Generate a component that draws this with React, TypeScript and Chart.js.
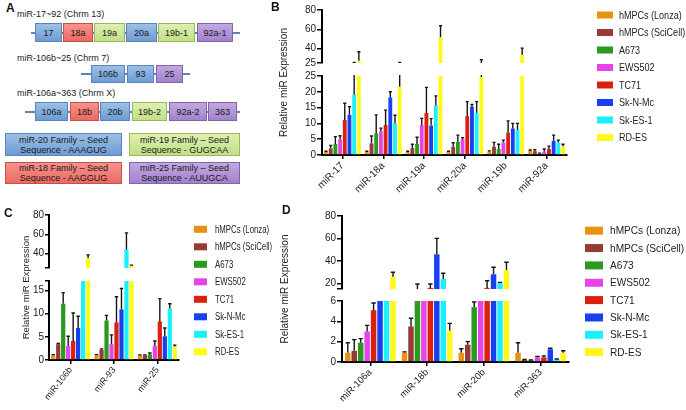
import React, { useEffect, useRef } from 'react';
import { Chart, registerables } from 'chart.js';

Chart.register(...registerables);

// ---------- shared series ----------
const SERIES = ['hMPCs (Lonza)', 'hMPCs (SciCell)', 'A673', 'EWS502', 'TC71', 'Sk-N-Mc', 'Sk-ES-1', 'RD-ES'];
const COLORS = ['#E8920F', '#963C37', '#2A9A1E', '#E545E8', '#DC2010', '#1840F0', '#19F0FA', '#FFF81A'];
const Y_TITLE = 'Relative miR Expression';

// ---------- panel B ----------
const B_CATEGORIES = ['miR-17', 'miR-18a', 'miR-19a', 'miR-20a', 'miR-19b', 'miR-92a'];
const B_LONZA = [1, 1, 1, 1, 1, 1.3];
const B_LONZA_ERR = [0.2, 0.2, 0.2, 0.2, 0.3, 0.3];
const B_SCICELL = [2.1, 3.7, 2.2, 2.6, 2.6, 1.2];
const B_SCICELL_ERR = [0.9, 2.3, 1.2, 1.3, 1.4, 0.5];
const B_A673 = [3.5, 6.9, 3.5, 4.2, 1.9, 0.4];
const B_A673_ERR = [2.3, 5.8, 2.1, 2.1, 1.5, 0.2];
const B_EWS502 = [4.9, 7.5, 9.5, 5.0, 4.0, 1.0];
const B_EWS502_ERR = [1.2, 1.0, 2.1, 0.5, 0.7, 0.9];
const B_TC71 = [11.1, 9.5, 13.3, 12.3, 7.1, 1.9];
const B_TC71_ERR = [5.3, 4.7, 8.1, 4.6, 3.7, 0.9];
const B_SKNMC = [12.7, 18.2, 9.3, 15.3, 8.4, 4.5];
const B_SKNMC_ERR = [2.6, 1.8, 2.2, 0.7, 1.6, 1.8];
const B_SKES1 = [19.1, 10.0, 15.7, 13.4, 7.9, 4.0];
const B_SKES1_ERR = [6.6, 2.6, 3.0, 3.5, 2.1, 0.7];
const B_RDES = [27.4, 21.6, 51.6, 24.7, 33.5, 2.8];
const B_RDES_ERR = [9.3, 4.1, 12.0, 3.6, 6.9, 0.6];
const B_TOP_TICKS = [25, 40, 60, 80];
const B_BOTTOM_TICKS = [0, 5, 10, 15, 20, 25];

// ---------- panel C ----------
const C_CATEGORIES = ['miR-106b', 'miR-93', 'miR-25'];
const C_LONZA = [1.0, 1.0, 1.0];
const C_LONZA_ERR = [0.15, 0.15, 0.1];
const C_SCICELL = [3.4, 2.2, 1.0];
const C_SCICELL_ERR = [0.15, 0.2, 0.1];
const C_A673 = [12.1, 8.5, 1.2];
const C_A673_ERR = [2.4, 1.1, 0.3];
const C_EWS502 = [3.0, 3.4, 3.0];
const C_EWS502_ERR = [2.1, 2.0, 1.1];
const C_TC71 = [4.1, 8.1, 8.3];
const C_TC71_ERR = [6.0, 5.5, 4.9];
const C_SKNMC = [6.9, 10.9, 5.1];
const C_SKNMC_ERR = [2.5, 4.5, 1.8];
const C_SKES1 = [21.0, 44.3, 11.1];
const C_SKES1_ERR = [1.5, 17.2, 1.0];
const C_RDES = [35.5, 27.3, 2.9];
const C_RDES_ERR = [3.1, 0.7, 0.3];
const C_TOP_TICKS = [25, 40, 60, 80];
const C_BOTTOM_TICKS = [0, 5, 10, 15, 17];

// ---------- panel D ----------
const D_CATEGORIES = ['miR-106a', 'miR-18b', 'miR-20b', 'miR-363'];
const D_LONZA = [0.9, 0.9, 0.9, 0.9];
const D_LONZA_ERR = [1.0, 0.1, 0.4, 1.0];
const D_SCICELL = [1.1, 3.5, 1.7, 0.2];
const D_SCICELL_ERR = [1.1, 0.8, 0.3, 0.05];
const D_A673 = [1.9, 14.0, 5.4, 0.15];
const D_A673_ERR = [0.4, 5.5, 0.5, 0.05];
const D_EWS502 = [3.0, 10.0, 10.0, 0.45];
const D_EWS502_ERR = [0.6, 0, 0, 0.1];
const D_TC71 = [5.1, 16.0, 16.0, 0.45];
const D_TC71_ERR = [0.7, 3.5, 6.4, 0.15];
const D_SKNMC = [10.0, 45.9, 28.1, 1.25];
const D_SKNMC_ERR = [0, 14.2, 6.2, 0.1];
const D_SKES1 = [10.0, 23.9, 20.1, 0.25];
const D_SKES1_ERR = [0, 5.1, 0.8, 0.05];
const D_RDES = [26.0, 3.1, 31.9, 0.9];
const D_RDES_ERR = [3.9, 0.7, 6.9, 0.2];
const D_TOP_TICKS = [15, 20, 40, 60, 80];
const D_BOTTOM_TICKS = [0, 2, 4, 6];

type PanelSpec = {
  categories: string[];
  values: number[][];
  errors: number[][];
  topMin: number; topMax: number; topTicks: number[];
  botMin: number; botMax: number; botTicks: number[];
  unlabeled: number[];
  weights: [number, number, number];
  pad: { left: number; right: number; top: number; bottom: number };
  axisWidth: number; xHeight: number; tickLen: number;
  catPct: number; barPct: number;
  tickFont: number; xFont: number; rotation: number;
  titleX: number; titleFont: number;
  legend: { sx: number; sw: number; sh: number; tx: number; y0: number; dy: number; font: string; squeeze: number };
};

const segClip = {
  id: 'segClip',
  beforeDatasetDraw(chart: any, args: any) {
    const ys = chart.scales[args.meta.yAxisID];
    const ctx = chart.ctx;
    const ca = chart.chartArea;
    ctx.save();
    ctx.beginPath();
    ctx.rect(ca.left, ys.top - 1, ca.right - ca.left + 10, ys.bottom - ys.top + 1);
    ctx.clip();
  },
  afterDatasetDraw(chart: any, args: any) {
    const ds = chart.data.datasets[args.index];
    const meta = args.meta;
    const ys = chart.scales[meta.yAxisID];
    const ctx = chart.ctx;
    ctx.strokeStyle = '#151515';
    ctx.lineWidth = 1.4;
    meta.data.forEach((el: any, i: number) => {
      const v = ds.data[i];
      const e = ds.errors[i];
      if (v == null || !e) return;
      const x = el.x;
      const y0 = ys.getPixelForValue(v);
      const y1 = ys.getPixelForValue(v + e);
      const half = Math.max(1.5, el.width * 0.4);
      ctx.beginPath();
      ctx.moveTo(x, y0);
      ctx.lineTo(x, y1);
      ctx.moveTo(x - half, y1);
      ctx.lineTo(x + half, y1);
      ctx.stroke();
    });
    ctx.restore();
  },
};

const yTitle = {
  id: 'yTitle',
  afterDraw(chart: any, _a: any, o: any) {
    const ctx = chart.ctx;
    const top = chart.scales.yTop.top;
    const bot = chart.scales.yBot.bottom;
    ctx.save();
    ctx.translate(o.x, (top + bot) / 2);
    ctx.rotate(-Math.PI / 2);
    ctx.font = `${o.size}px "Liberation Sans", Arial, sans-serif`;
    ctx.fillStyle = '#222';
    ctx.textAlign = 'center';
    ctx.textBaseline = 'middle';
    ctx.fillText(Y_TITLE, 0, 0);
    ctx.restore();
  },
};

const seriesLegend = {
  id: 'seriesLegend',
  afterDraw(chart: any, _a: any, o: any) {
    const ctx = chart.ctx;
    ctx.save();
    ctx.font = o.font;
    ctx.textBaseline = 'middle';
    ctx.textAlign = 'left';
    SERIES.forEach((name, i) => {
      const y = o.y0 + o.dy * i;
      ctx.fillStyle = COLORS[i];
      ctx.fillRect(o.sx, y - o.sh / 2, o.sw, o.sh);
      ctx.fillStyle = '#222';
      ctx.save();
      ctx.translate(o.tx, y + 0.5);
      ctx.scale(o.squeeze, 1);
      ctx.fillText(name, 0, 0);
      ctx.restore();
    });
    ctx.restore();
  },
};

function buildConfig(spec: PanelSpec): any {
  const datasets: any[] = [];
  spec.values.forEach((vals, s) => {
    ['yBot', 'yTop'].forEach((axis) => {
      datasets.push({
        label: SERIES[s],
        data: vals,
        errors: spec.errors[s],
        backgroundColor: COLORS[s],
        borderWidth: 0,
        yAxisID: axis,
        stack: 'g' + s,
        categoryPercentage: spec.catPct,
        barPercentage: spec.barPct,
      });
    });
  });
  const tickFont = { family: '"Liberation Sans", Arial, sans-serif', size: spec.tickFont };
  const yGrid = { display: true, drawOnChartArea: false, drawTicks: true, tickLength: spec.tickLen, color: '#000', lineWidth: 1.5 };
  const yBorder = { display: true, color: '#000', width: 2 };
  const fitW = (s: any) => { s.width = spec.axisWidth; };
  const label = (v: any) => (spec.unlabeled.includes(Number(v)) ? '' : String(v));
  return {
    type: 'bar',
    data: { labels: spec.categories, datasets },
    plugins: [segClip, yTitle, seriesLegend],
    options: {
      responsive: false,
      animation: false,
      events: [],
      devicePixelRatio: 1,
      layout: { padding: spec.pad },
      plugins: {
        legend: { display: false },
        tooltip: { enabled: false },
        yTitle: { x: spec.titleX, size: spec.titleFont },
        seriesLegend: spec.legend,
      },
      scales: {
        x: {
          type: 'category',
          grid: { display: true, drawOnChartArea: false, drawTicks: true, tickLength: 4, offset: false, color: '#000', lineWidth: 1.5 },
          border: { display: true, color: '#000', width: 2 },
          ticks: {
            autoSkip: false, minRotation: spec.rotation, maxRotation: spec.rotation, padding: 1,
            color: '#222', font: { family: '"Liberation Sans", Arial, sans-serif', size: spec.xFont },
          },
          afterFit: (s: any) => { s.height = spec.xHeight; },
        },
        yBot: {
          type: 'linear', position: 'left', stack: 'brk', stackWeight: spec.weights[2], weight: 1,
          min: spec.botMin, max: spec.botMax,
          afterBuildTicks: (s: any) => { s.ticks = spec.botTicks.map((v) => ({ value: v })); },
          ticks: { autoSkip: false, padding: 1, color: '#222', font: tickFont, callback: label },
          grid: yGrid, border: yBorder, afterFit: fitW,
        },
        yGap: {
          type: 'linear', position: 'left', stack: 'brk', stackWeight: spec.weights[1], weight: 2,
          min: 0, max: 1,
          ticks: { display: false }, grid: { display: false }, border: { display: false }, afterFit: fitW,
        },
        yTop: {
          type: 'linear', position: 'left', stack: 'brk', stackWeight: spec.weights[0], weight: 3,
          min: spec.topMin, max: spec.topMax,
          afterBuildTicks: (s: any) => { s.ticks = spec.topTicks.map((v) => ({ value: v })); },
          ticks: { autoSkip: false, padding: 1, color: '#222', font: tickFont, callback: label },
          grid: yGrid, border: yBorder, afterFit: fitW,
        },
      },
    },
  };
}

const SANS = '"Liberation Sans", Arial, sans-serif';

const SPEC_B: PanelSpec = {
  categories: B_CATEGORIES,
  values: [B_LONZA, B_SCICELL, B_A673, B_EWS502, B_TC71, B_SKNMC, B_SKES1, B_RDES],
  errors: [B_LONZA_ERR, B_SCICELL_ERR, B_A673_ERR, B_EWS502_ERR, B_TC71_ERR, B_SKNMC_ERR, B_SKES1_ERR, B_RDES_ERR],
  topMin: 25, topMax: 80, topTicks: B_TOP_TICKS,
  botMin: 0, botMax: 25, botTicks: B_BOTTOM_TICKS,
  unlabeled: [],
  weights: [53, 13, 79],
  pad: { left: 42, right: 119, top: 10, bottom: 0 },
  axisWidth: 40, xHeight: 45, tickLen: 5,
  catPct: 0.92, barPct: 0.82,
  tickFont: 10, xFont: 10, rotation: 45,
  titleX: 44, titleFont: 10,
  legend: { sx: 357, sw: 16, sh: 7, tx: 379, y0: 15, dy: 17.5, font: `11px ${SANS}`, squeeze: 0.82 },
};

const SPEC_C: PanelSpec = {
  categories: C_CATEGORIES,
  values: [C_LONZA, C_SCICELL, C_A673, C_EWS502, C_TC71, C_SKNMC, C_SKES1, C_RDES],
  errors: [C_LONZA_ERR, C_SCICELL_ERR, C_A673_ERR, C_EWS502_ERR, C_TC71_ERR, C_SKNMC_ERR, C_SKES1_ERR, C_RDES_ERR],
  topMin: 25, topMax: 80, topTicks: C_TOP_TICKS,
  botMin: 0, botMax: 17, botTicks: C_BOTTOM_TICKS,
  unlabeled: [17, 25],
  weights: [53, 13, 79],
  pad: { left: 29, right: 99, top: 15, bottom: 0 },
  axisWidth: 20, xHeight: 50, tickLen: 4,
  catPct: 0.92, barPct: 0.85,
  tickFont: 10, xFont: 9, rotation: 52,
  titleX: 26, titleFont: 9.5,
  legend: { sx: 194, sw: 13, sh: 7, tx: 215, y0: 29.3, dy: 17.5, font: `10px ${SANS}`, squeeze: 0.78 },
};

const SPEC_D: PanelSpec = {
  categories: D_CATEGORIES,
  values: [D_LONZA, D_SCICELL, D_A673, D_EWS502, D_TC71, D_SKNMC, D_SKES1, D_RDES],
  errors: [D_LONZA_ERR, D_SCICELL_ERR, D_A673_ERR, D_EWS502_ERR, D_TC71_ERR, D_SKNMC_ERR, D_SKES1_ERR, D_RDES_ERR],
  topMin: 15, topMax: 80, topTicks: D_TOP_TICKS,
  botMin: 0, botMax: 6, botTicks: D_BOTTOM_TICKS,
  unlabeled: [15],
  weights: [73, 12, 61],
  pad: { left: 34, right: 117, top: 16, bottom: 0 },
  axisWidth: 30, xHeight: 48, tickLen: 5,
  catPct: 0.91, barPct: 0.85,
  tickFont: 10, xFont: 9.5, rotation: 45,
  titleX: 7, titleFont: 10,
  legend: { sx: 307, sw: 18, sh: 8, tx: 332, y0: 30.7, dy: 17.35, font: `11px ${SANS}`, squeeze: 0.92 },
};

function BrokenBarChart({ spec, left, top, width, height }: { spec: PanelSpec; left: number; top: number; width: number; height: number }) {
  const ref = useRef<HTMLCanvasElement>(null);
  useEffect(() => {
    const chart = new Chart(ref.current as HTMLCanvasElement, buildConfig(spec));
    return () => chart.destroy();
  }, [spec]);
  return (
    <canvas
      ref={ref}
      width={width}
      height={height}
      style={{ position: 'absolute', left, top, width, height, display: 'block' }}
    />
  );
}

// ---------- panel A (diagram) ----------
const BOX_STYLE: Record<string, [string, string, string]> = {
  blue: ['#9CC0E8', '#6E9BD3', '#5B84BA'],
  red: ['#F5938C', '#EB6A62', '#C65049'],
  green: ['#DDF0B0', '#C2DE86', '#9DB95F'],
  purple: ['#C2A8E2', '#A282CB', '#8264A8'],
};

type Gene = [string, number, number, string];
const ROW1: Gene[] = [['17', 35, 27, 'blue'], ['18a', 63, 30, 'red'], ['19a', 94, 31, 'green'], ['20a', 126, 31, 'blue'], ['19b-1', 158, 37, 'green'], ['92a-1', 197, 36, 'purple']];
const ROW2: Gene[] = [['106b', 91, 34, 'blue'], ['93', 127, 27, 'blue'], ['25', 156, 27, 'purple']];
const ROW3: Gene[] = [['106a', 35, 33, 'blue'], ['18b', 70, 29, 'red'], ['20b', 100, 30, 'blue'], ['19b-2', 132, 35, 'green'], ['92a-2', 169, 38, 'purple'], ['363', 208, 29, 'purple']];
const FAMILIES: [string, string, number, number, number, number, string][] = [
  ['miR-20 Family \u2013 Seed', 'Sequence - AAAGUG', 5, 133, 117, 23, 'blue'],
  ['miR-19 Family \u2013 Seed', 'Sequence - GUGCAA', 129, 133, 111, 23, 'green'],
  ['miR-18 Family \u2013 Seed', 'Sequence - AAGGUG', 5, 162, 117, 22, 'red'],
  ['miR-25 Family \u2013 Seed', 'Sequence - AUUGCA', 129, 162, 111, 22, 'purple'],
];

function Box({ x, y, w, h, color, children }: any) {
  const [c1, c2, b] = BOX_STYLE[color];
  return (
    <div
      style={{
        position: 'absolute', left: x, top: y, width: w, height: h, boxSizing: 'border-box',
        background: `linear-gradient(${c1}, ${c2})`, border: `1px solid ${b}`,
        display: 'flex', flexDirection: 'column', alignItems: 'center', justifyContent: 'center',
        color: '#1a1a1a', fontSize: 9, lineHeight: '10px', textAlign: 'center', whiteSpace: 'nowrap',
      }}
    >
      {children}
    </div>
  );
}

function GeneRow({ genes, y, h, lineFrom, lineTo }: { genes: Gene[]; y: number; h: number; lineFrom: number; lineTo: number }) {
  return (
    <>
      <div style={{ position: 'absolute', left: lineFrom, top: y + h / 2 - 1, width: lineTo - lineFrom, height: 2, background: '#5B84BA' }} />
      {genes.map(([t, x, w, c]) => (
        <Box key={t} x={x} y={y} w={w} h={h} color={c}>{t}</Box>
      ))}
    </>
  );
}

function PanelA() {
  const label = { position: 'absolute' as const, left: 17, fontSize: 9, color: '#1a1a1a', whiteSpace: 'nowrap' as const };
  return (
    <div style={{ position: 'absolute', left: 0, top: 0, width: 240, height: 200, overflow: 'hidden' }}>
      <div style={{ ...label, top: 9 }}>miR-17~92 (Chrm 13)</div>
      <GeneRow genes={ROW1} y={23} h={19} lineFrom={31} lineTo={240} />
      <div style={{ ...label, top: 53 }}>miR-106b~25 (Chrm 7)</div>
      <GeneRow genes={ROW2} y={65} h={18} lineFrom={81} lineTo={190} />
      <div style={{ ...label, top: 88 }}>miR-106a~363 (Chrm X)</div>
      <GeneRow genes={ROW3} y={102} h={19} lineFrom={25} lineTo={240} />
      {FAMILIES.map(([l1, l2, x, y, w, h, c]) => (
        <Box key={l1} x={x} y={y} w={w} h={h} color={c}>
          <span>{l1}</span>
          <span>{l2}</span>
        </Box>
      ))}
    </div>
  );
}

const letter = (t: string, left: number, top: number) => (
  <div style={{ position: 'absolute', left, top, fontSize: 12, fontWeight: 'bold', color: '#111', lineHeight: '12px' }}>{t}</div>
);

export default function App() {
  return (
    <div
      style={{
        position: 'absolute', left: 0, top: 0, width: 686, height: 410, background: '#fff', overflow: 'hidden',
        fontFamily: '"Liberation Sans", Arial, sans-serif',
      }}
    >
      <PanelA />
      <BrokenBarChart spec={SPEC_B} left={240} top={0} width={446} height={200} />
      <BrokenBarChart spec={SPEC_C} left={0} top={200} width={278} height={210} />
      <BrokenBarChart spec={SPEC_D} left={278} top={200} width={408} height={210} />
      {letter('A', 6, 2)}
      {letter('B', 271, 1)}
      {letter('C', 4, 207)}
      {letter('D', 282, 204)}
    </div>
  );
}
